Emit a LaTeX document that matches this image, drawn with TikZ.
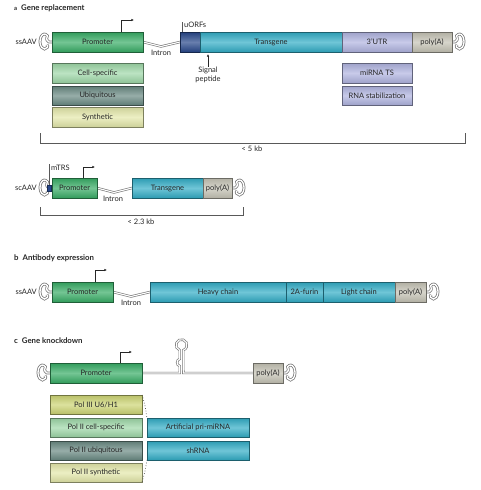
\documentclass[tikz,border=0pt]{standalone}
\usepackage{fontspec}
\setmainfont{Lato}
\usetikzlibrary{arrows.meta,backgrounds}
\definecolor{txt}{HTML}{262626}
\definecolor{cprom}{HTML}{38AD66}
\definecolor{ccell}{HTML}{9ED8A8}
\definecolor{cubiq}{HTML}{6A8A83}
\definecolor{csynt}{HTML}{E4E8AA}
\definecolor{cuorf}{HTML}{27478A}
\definecolor{ctg}{HTML}{32ADC6}
\definecolor{cutr}{HTML}{B0B4E0}
\definecolor{cpa}{HTML}{C5C3B5}
\definecolor{cpol3}{HTML}{CDD574}
\definecolor{cline}{HTML}{777777}
\tikzset{
  box/.style={draw=#1!55!black, line width=0.6pt, top color=#1!90!black, bottom color=#1!90!black,
    middle color=#1!70!white, inner sep=0pt, outer sep=0pt, anchor=north west, text=txt},
  lbl/.style={text=txt, inner sep=0pt},
  dna/.style={draw=cline, line width=0.65pt, double=white, double distance=1.1pt},
  parrow/.style={draw=txt, line width=0.6pt, -{Latex[length=2.6pt,width=2.4pt]}},
  brk/.style={draw=black!65, line width=0.6pt},
  dotline/.style={draw=black!70, line width=0.7pt, dotted},
  ttl/.style={anchor=west, inner sep=0pt, font=\fontsize{7.8}{9}\selectfont\bfseries, text=txt},
  pics/itr/.style={code={
    \draw[dna, line width=0.75pt, double distance=1.3pt] (0,0) -- (-3,0)
      .. controls (-5,0) and (-6,-3) .. (-4.6,-6.2)
      arc[start angle=-50, end angle=-310, x radius=4.5, y radius=7.5]
      .. controls (-4,4.5) and (-4.2,3.2) .. (-5.2,2.8);
  }},
}
\begin{document}
\begin{tikzpicture}[x=1pt,y=-1pt,font=\fontsize{7.5}{9}\selectfont]
\useasboundingbox (0,0) rectangle (480,490);

% ---------------- a ----------------
\node[ttl] (ta) at (14,8) {{\fontsize{6}{7}\selectfont a}\hspace{4pt}Gene replacement};
\node[lbl, anchor=east] (ssa) at (37,42) {ssAAV};
\node[box=cprom, minimum width=91pt, minimum height=20pt] (pa) at (52,32) {Promoter};
\node[box=cuorf, minimum width=20pt, minimum height=20pt] (ua) at (180,32) {};
\node[box=ctg, minimum width=142pt, minimum height=20pt] (tga) at (200,32) {Transgene};
\node[box=cutr, minimum width=70pt, minimum height=20pt] (utra) at (342,32) {3’UTR};
\node[box=cpa, minimum width=40pt, minimum height=20pt] (paa) at (412,32) {poly(A)};
\node[box=ccell, minimum width=91pt, minimum height=20pt] (cs) at (52,63) {Cell-specific};
\node[box=cubiq, minimum width=91pt, minimum height=19pt] (ub) at (52,86) {Ubiquitous};
\node[box=csynt, minimum width=91pt, minimum height=20pt] (sy) at (52,107) {Synthetic};
\node[box=cutr, minimum width=70pt, minimum height=20pt] (mts) at (342,63) {miRNA TS};
\node[box=cutr, minimum width=70pt, minimum height=19pt] (rst) at (342,86) {RNA stabilization};
\node[lbl] (ia) at (161,52.5) {Intron};
\node[lbl, anchor=south west] (uol) at (184,28) {uORFs};
\node[lbl, align=center, anchor=north] (sp) at (208,66.5) {Signal\\peptide};
\node[lbl] (kb5) at (252,149) {< 5 kb};
\coordinate (aa0) at (121,20);
\coordinate (aa1) at (134,20);
\coordinate (uot) at (182,22);
\coordinate (spt) at (208,54);
\coordinate (b1) at (40,133);
\coordinate (b2) at (465,133);
\begin{pgfonlayer}{background}
  \fill[white] (0,0) rectangle (480,490);
  \draw[dna] (pa.east) -- (161,46.5) -- (ua.west);
  \path (pa.west) pic {itr};
  \path (paa.east) pic[xscale=-1] {itr};
\end{pgfonlayer}
\draw[parrow] (pa.north -| aa0) |- (aa1);
\draw[brk] (uot) -- (ua.north -| uot);
\draw[parrow] (sp.north) -- (spt);
\draw[brk] (b1) -- ++(0,10) -| (b2);

% ---------------- scAAV ----------------
\node[lbl, anchor=east] (sca) at (37,188) {scAAV};
\node[box=cprom, minimum width=45pt, minimum height=20pt] (pb) at (52,178) {Promoter};
\node[box=ctg, minimum width=71pt, minimum height=20pt] (tgb) at (132,178) {Transgene};
\node[box=cpa, minimum width=29pt, minimum height=20pt] (pab) at (203,178) {poly(A)};
\node[lbl] (ib) at (113,199) {Intron};
\node[lbl, anchor=west] (mtl) at (51,168) {mTRS};
\node[lbl] (kb23) at (141,221.5) {< 2.3 kb};
\coordinate (ab0) at (83,167);
\coordinate (ab1) at (95,167);
\coordinate (mtt) at (48.5,164);
\coordinate (c1) at (40,207);
\coordinate (c2) at (243,207);
\begin{pgfonlayer}{background}
  \draw[dna] (pb.east) -- (114,192.5) -- (tgb.west);
  \path (pb.west) pic {itr};
  \path (pab.east) pic[xscale=-1] {itr};
\end{pgfonlayer}
\node[fill=cuorf, draw=cuorf!60!black, line width=0.4pt, minimum width=4.5pt, minimum height=6pt, inner sep=0pt] (mt) at (49.3,188) {};
\draw[brk] (mt.north) -- (mt.north |- mtt);
\draw[parrow] (pb.north -| ab0) |- (ab1);
\draw[brk] (c1) -- ++(0,8) -| (c2);

% ---------------- b ----------------
\node[ttl] (tb) at (14,258) {b\hspace{4pt}Antibody expression};
\node[lbl, anchor=east] (ssb) at (37,292) {ssAAV};
\node[box=cprom, minimum width=61pt, minimum height=20pt] (pc) at (52,282) {Promoter};
\node[box=ctg, minimum width=136pt, minimum height=20pt] (hc) at (150,282) {Heavy chain};
\node[box=ctg, minimum width=37pt, minimum height=20pt] (fur) at (286,282) {2A-furin};
\node[box=ctg, minimum width=72pt, minimum height=20pt] (lc) at (323,282) {Light chain};
\node[box=cpa, minimum width=31pt, minimum height=20pt] (pac) at (395,282) {poly(A)};
\node[lbl] (ic) at (131,302.5) {Intron};
\coordinate (ac0) at (95,270);
\coordinate (ac1) at (107,270);
\begin{pgfonlayer}{background}
  \draw[dna] (pc.east) -- (131,296.5) -- (hc.west);
  \path (pc.west) pic {itr};
  \path (pac.east) pic[xscale=-1] {itr};
\end{pgfonlayer}
\draw[parrow] (pc.north -| ac0) |- (ac1);

% ---------------- c ----------------
\node[ttl] (tc) at (14,341) {c\hspace{4pt}Gene knockdown};
\node[box=cprom, minimum width=92pt, minimum height=20pt] (pd) at (50,363) {Promoter};
\node[box=cpa, minimum width=30pt, minimum height=20pt] (pad) at (253,363) {poly(A)};
\node[box=cpol3, minimum width=92pt, minimum height=19pt] (p3) at (50,395) {Pol III U6/H1};
\node[box=ccell, minimum width=92pt, minimum height=19pt] (p2c) at (50,418) {Pol II cell-specific};
\node[box=cubiq, minimum width=92pt, minimum height=19pt] (p2u) at (50,441) {Pol II ubiquitous};
\node[box=csynt, minimum width=92pt, minimum height=19pt] (p2s) at (50,463) {Pol II synthetic};
\node[box=ctg, minimum width=102pt, minimum height=19pt] (apm) at (147,418) {Artificial pri-miRNA};
\node[box=ctg, minimum width=102pt, minimum height=19pt] (shr) at (147,441) {shRNA};
\coordinate (ad0) at (120,352);
\coordinate (ad1) at (132,352);
\begin{pgfonlayer}{background}
  \draw[dna] (pd.east) -- (179.7,373) -- (179.7,366)
     .. controls (176.3,365.5) and (176.3,359.5) .. (179.7,359) -- (179.7,350.2)
     arc[start angle=109, end angle=431, radius=5.5] -- (183.3,373) -- (pad.west);
  \path (pd.west) pic {itr};
  \path (pad.east) pic[xscale=-1] {itr};
\end{pgfonlayer}
\draw[parrow] (pd.north -| ad0) |- (ad1);
\draw[dotline] (p3.north east) .. controls (145,405) .. (apm.north west);
\draw[dotline] (shr.south west) .. controls (145,472) .. (p2s.south east);
\end{tikzpicture}
\end{document}
